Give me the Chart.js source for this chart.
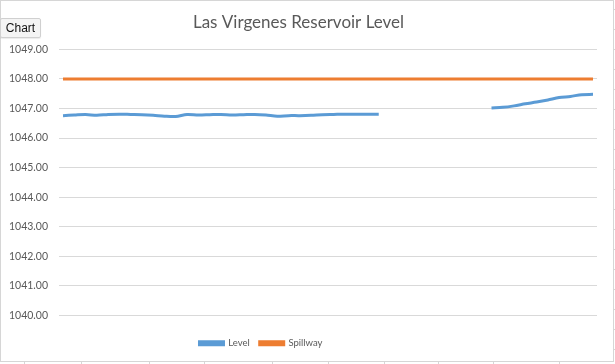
<!DOCTYPE html>
<html>
<head>
<meta charset="utf-8">
<title>Las Virgenes Reservoir Level</title>
<script src="https://cdn.jsdelivr.net/npm/chart.js@4.4.1/dist/chart.umd.min.js"></script>
<style>
  html, body { margin: 0; padding: 0; background: #fff; }
  #wrap { position: relative; width: 615px; height: 364px; }
  #chartBtn {
    position: absolute; left: 0; top: 18px; width: 41px; height: 20px;
    padding: 0; margin: 0;
    font: 12px "Liberation Sans", Arial, sans-serif; color: #111;
    background: #f4f4f4; border: 1px solid #d0d0d0; border-radius: 2px;
    box-shadow: 0 1px 1px rgba(0,0,0,0.08);
  }
</style>
</head>
<body>
<div id="wrap">
  <canvas id="levelChart" width="615" height="364"></canvas>
  <button id="chartBtn">Chart</button>
</div>
<script>
// reservoir level readings (ft), gap where no data
const level = [
  1046.76, 1046.78, 1046.80, 1046.77, 1046.80, 1046.81, 1046.80, 1046.79, 1046.77, 1046.74,
  1046.73, 1046.80, 1046.78, 1046.79, 1046.80, 1046.78, 1046.79, 1046.80, 1046.78, 1046.74,
  1046.76, 1046.76, 1046.77, 1046.79, 1046.80, 1046.81, 1046.81, 1046.81, 1046.81,
  null, null, null, null, null, null, null, null, null,
  1047.02, 1047.04, 1047.09, 1047.16, 1047.22, 1047.29, 1047.37, 1047.41, 1047.47, 1047.48
];
const spillway = [
  1048, 1048, 1048, 1048, 1048, 1048, 1048, 1048, 1048, 1048,
  1048, 1048, 1048, 1048, 1048, 1048, 1048, 1048, 1048, 1048,
  1048, 1048, 1048, 1048, 1048, 1048, 1048, 1048, 1048, 1048,
  1048, 1048, 1048, 1048, 1048, 1048, 1048, 1048, 1048, 1048,
  1048, 1048, 1048, 1048, 1048, 1048, 1048, 1048
];
const yTicks = [1040, 1041, 1042, 1043, 1044, 1045, 1046, 1047, 1048, 1049];

const toPoints = arr => arr.map((v, i) => ({ x: i, y: v }));

// sheet edge around the chart object
const frameLines = {
  id: 'frameLines',
  afterLayout(chart) {
    // excel centres the legend a bit left of the plot
    chart.legend.left = 0;
    chart.legend.right = 522;
  },
  afterDraw(chart) {
    const c = chart.ctx;
    c.save();
    c.strokeStyle = '#d6d6d6';
    c.lineWidth = 1;
    c.strokeRect(0.5, 0.5, 613, 361);
    c.beginPath();
    [9, 29, 49, 69, 89, 109, 129, 149, 169, 189, 209, 229, 249, 269, 289, 309, 329, 349].forEach(y => {
      c.moveTo(613.5, y + 0.5); c.lineTo(615, y + 0.5);
    });
    [24, 81, 149, 204, 272, 328, 384, 438, 493, 559].forEach(x => {
      c.moveTo(x + 0.5, 361.5); c.lineTo(x + 0.5, 364);
    });
    c.stroke();
    c.restore();
  }
};

const ctx = document.getElementById('levelChart').getContext('2d');
const levelChart = new Chart(ctx, {
  type: 'line',
  data: {
    datasets: [{
      label: 'Level',
      data: toPoints(level),
      borderColor: '#5b9bd5',
      backgroundColor: '#5b9bd5',
      borderWidth: 3,
      pointRadius: 0,
      tension: 0.3,
      spanGaps: false
    }, {
      label: 'Spillway',
      data: toPoints(spillway),
      borderColor: '#ed7d31',
      backgroundColor: '#ed7d31',
      borderWidth: 3,
      pointRadius: 0,
      tension: 0
    }]
  },
  options: {
    responsive: false,
    animation: false,
    layout: { padding: { left: 0, right: 18, top: 0, bottom: 6 } },
    plugins: {
      title: {
        display: true,
        text: 'Las Virgenes Reservoir Level',
        color: '#595959',
        font: { family: 'Lato', size: 17, weight: 'normal' },
        padding: { top: 12, bottom: 17 }
      },
      legend: {
        position: 'bottom',
        labels: {
          boxWidth: 24,
          boxHeight: 3,
          padding: 10,
          color: '#595959',
          font: { family: 'Lato', size: 9.5 }
        }
      },
      tooltip: { enabled: false }
    },
    scales: {
      x: {
        type: 'linear',
        min: -0.355,
        max: 47.355,
        ticks: { display: false },
        grid: { display: false },
        border: { display: false },
        afterFit(scale) { scale.height = 13; }
      },
      y: {
        min: 1040,
        max: 1049,
        afterBuildTicks(scale) { scale.ticks = yTicks.map(v => ({ value: v })); },
        ticks: {
          padding: 11,
          color: '#595959',
          font: { family: 'Lato', size: 10.5 },
          callback: v => v.toFixed(2)
        },
        grid: { color: '#d9d9d9', drawTicks: false },
        border: { display: false },
        afterFit(scale) { scale.width = 59; }
      }
    }
  },
  plugins: [frameLines]
});
</script>
</body>
</html>
